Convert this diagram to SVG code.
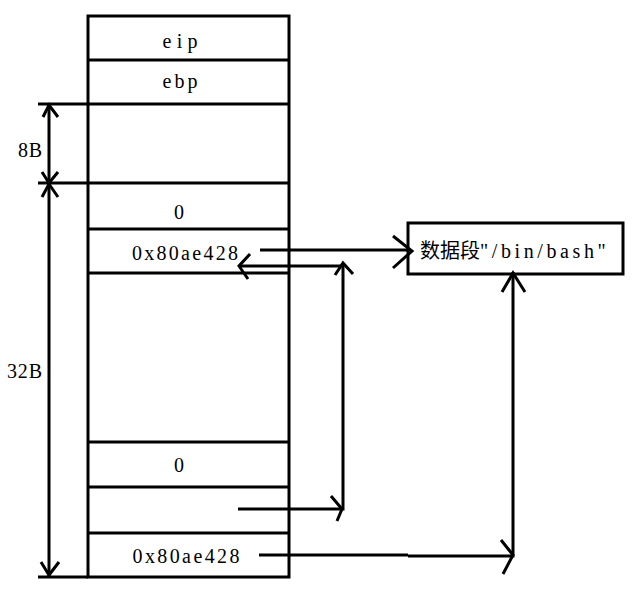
<svg xmlns="http://www.w3.org/2000/svg" width="633" height="592" viewBox="0 0 633 592">
<style>
.ln{stroke:#000;stroke-width:3;fill:none;stroke-linecap:butt;stroke-linejoin:miter}
.t{font-family:"Liberation Serif","Noto Sans CJK SC",serif;font-size:20px;fill:#000}
.c{text-anchor:middle}
</style>
<rect width="633" height="592" fill="#fff"/>
<g id="stack">
<rect class="ln" x="88" y="16" width="201" height="561"/>
<path class="ln" d="M88 60H289M88 104H289M88 183H289M88 229H289M88 273H289M88 442H289M88 487H289M88 533H289"/>
</g>
<g id="row-eip"><text class="t c" x="180" y="48" textLength="35" lengthAdjust="spacing">eip</text></g>
<g id="row-ebp"><text class="t c" x="180" y="88" textLength="35" lengthAdjust="spacing">ebp</text></g>
<g id="row-0a"><text class="t c" x="179" y="219">0</text></g>
<g id="row-addr1"><text class="t c" x="185" y="260" textLength="106" lengthAdjust="spacing">0x80ae428</text></g>
<g id="row-0b"><text class="t c" x="179" y="472">0</text></g>
<g id="row-addr2"><text class="t c" x="186" y="563" textLength="107" lengthAdjust="spacing">0x80ae428</text></g>
<g id="dim-8B">
<path class="ln" d="M38 104H88M38 183H88M49 104V183"/>
<path class="ln" d="M43 117L49 105L58 117M42 172L49 183L58 172"/>
<text class="t" x="18" y="157" textLength="24" lengthAdjust="spacing">8B</text>
</g>
<g id="dim-32B">
<path class="ln" d="M38 577H88M49 183V576"/>
<path class="ln" d="M42 197L49 184L58 197M41 562L49 575L59 562"/>
<text class="t" x="7" y="378" textLength="35" lengthAdjust="spacing">32B</text>
</g>
<g id="data">
<rect class="ln" x="408" y="223" width="215" height="51"/>
<text class="t" x="420" y="258">数据段<tspan letter-spacing="3.6">"/bin/bash"</tspan></text>
</g>
<g id="connectors">
<path class="ln" d="M260 250H411"/>
<path class="ln" d="M393 236L412 251L393 268"/>
<path class="ln" d="M343 264V509H238"/>
<path class="ln" d="M240 266H343"/>
<path class="ln" d="M250 254L239 266L248 279"/>
<path class="ln" d="M335 275L343 263L353 274"/>
<path class="ln" d="M331 496L342 509L337 521"/>
<path class="ln" d="M259 555H408M408 556H513V272"/>
<path class="ln" d="M501 540L513 555L503 574"/>
<path class="ln" d="M502 292L513 273L525 292"/>
</g>
</svg>
